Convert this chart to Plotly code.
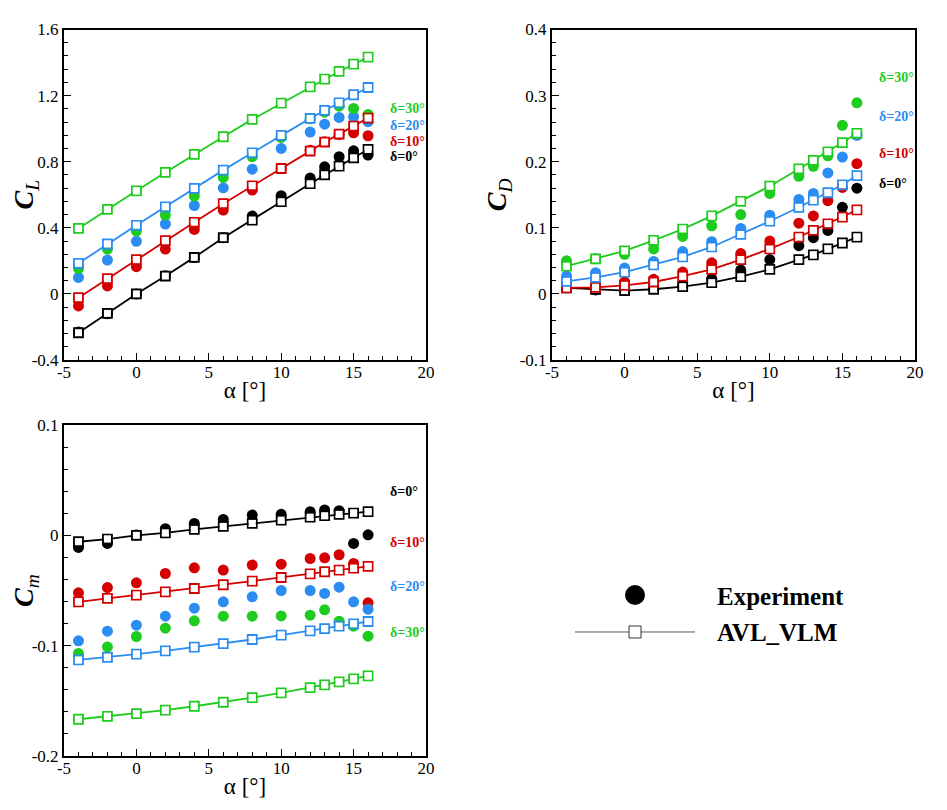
import plotly.graph_objects as go

# ---------------- data ----------------
alpha = [-4, -2, 0, 2, 4, 6, 8, 10, 12, 13, 14, 15, 16]
delta_labels = ["δ=0°", "δ=10°", "δ=20°", "δ=30°"]
colors = ["#000000", "#d40000", "#2b8cf2", "#1ecc1e"]

# Lift coefficient
cl_avl_d0 = [-0.235, -0.118, 0.000, 0.108, 0.221, 0.340, 0.447, 0.558, 0.667, 0.721, 0.773, 0.824, 0.874]
cl_avl_d10 = [-0.023, 0.092, 0.207, 0.322, 0.433, 0.546, 0.654, 0.759, 0.864, 0.919, 0.967, 1.015, 1.064]
cl_avl_d20 = [0.185, 0.302, 0.415, 0.527, 0.638, 0.749, 0.854, 0.959, 1.062, 1.110, 1.156, 1.205, 1.249]
cl_avl_d30 = [0.396, 0.511, 0.624, 0.735, 0.844, 0.951, 1.056, 1.154, 1.253, 1.300, 1.346, 1.390, 1.433]
cl_exp_d0 = [-0.230, -0.120, 0.000, 0.110, 0.220, 0.340, 0.471, 0.594, 0.701, 0.769, 0.830, 0.866, 0.840]
cl_exp_d10 = [-0.073, 0.048, 0.165, 0.271, 0.390, 0.507, 0.628, 0.760, 0.870, 0.920, 0.965, 0.975, 0.957]
cl_exp_d20 = [0.100, 0.205, 0.318, 0.423, 0.535, 0.642, 0.755, 0.880, 0.979, 1.027, 1.068, 1.072, 1.042]
cl_exp_d30 = [0.154, 0.271, 0.380, 0.477, 0.592, 0.705, 0.830, 0.947, 1.060, 1.100, 1.136, 1.122, 1.086]

# Drag coefficient
cd_avl_d0 = [0.009, 0.007, 0.005, 0.007, 0.011, 0.017, 0.026, 0.037, 0.052, 0.059, 0.068, 0.077, 0.086]
cd_avl_d10 = [0.009, 0.010, 0.013, 0.018, 0.027, 0.037, 0.052, 0.068, 0.086, 0.096, 0.106, 0.116, 0.127]
cd_avl_d20 = [0.019, 0.025, 0.033, 0.044, 0.056, 0.071, 0.090, 0.110, 0.131, 0.142, 0.153, 0.165, 0.179]
cd_avl_d30 = [0.042, 0.053, 0.065, 0.081, 0.098, 0.118, 0.140, 0.163, 0.189, 0.202, 0.215, 0.229, 0.243]
cd_exp_d0 = [0.010, 0.006, 0.006, 0.009, 0.013, 0.023, 0.036, 0.052, 0.073, 0.085, 0.096, 0.131, 0.160]
cd_exp_d10 = [0.010, 0.010, 0.018, 0.022, 0.033, 0.047, 0.061, 0.080, 0.107, 0.118, 0.141, 0.161, 0.197]
cd_exp_d20 = [0.027, 0.032, 0.039, 0.049, 0.064, 0.079, 0.099, 0.119, 0.143, 0.152, 0.183, 0.207, 0.240]
cd_exp_d30 = [0.050, 0.053, 0.060, 0.068, 0.087, 0.103, 0.120, 0.152, 0.178, 0.193, 0.209, 0.255, 0.289]

# Pitching moment coefficient
cm_avl_d0 = [-0.0058, -0.0034, 0.0000, 0.0023, 0.0054, 0.0081, 0.0108, 0.0138, 0.0165, 0.0178, 0.0190, 0.0202, 0.0214]
cm_avl_d10 = [-0.0603, -0.0572, -0.0542, -0.0512, -0.0482, -0.0448, -0.0415, -0.0382, -0.0349, -0.0330, -0.0315, -0.0297, -0.0282]
cm_avl_d20 = [-0.1129, -0.1105, -0.1077, -0.1047, -0.1014, -0.0981, -0.0944, -0.0905, -0.0866, -0.0845, -0.0823, -0.0802, -0.0781]
cm_avl_d30 = [-0.1667, -0.1640, -0.1616, -0.1585, -0.1549, -0.1513, -0.1471, -0.1428, -0.1380, -0.1356, -0.1328, -0.1301, -0.1274]
cm_exp_d0 = [-0.0110, -0.0073, 0.0003, 0.0060, 0.0108, 0.0144, 0.0184, 0.0190, 0.0214, 0.0230, 0.0223, -0.0073, 0.0005]
cm_exp_d10 = [-0.0521, -0.0473, -0.0430, -0.0346, -0.0294, -0.0315, -0.0270, -0.0261, -0.0210, -0.0204, -0.0176, -0.0255, -0.0612]
cm_exp_d20 = [-0.0956, -0.0869, -0.0814, -0.0733, -0.0660, -0.0603, -0.0557, -0.0500, -0.0500, -0.0527, -0.0470, -0.0603, -0.0669]
cm_exp_d30 = [-0.1071, -0.1011, -0.0917, -0.0842, -0.0775, -0.0733, -0.0733, -0.0730, -0.0724, -0.0675, -0.0778, -0.0823, -0.0914]

# Ticks
x_tickvals = [-5, 0, 5, 10, 15, 20]
x_ticktext = ["-5", "0", "5", "10", "15", "20"]
cl_tickvals = [-0.4, 0, 0.4, 0.8, 1.2, 1.6]
cl_ticktext = ["-0.4", "0", "0.4", "0.8", "1.2", "1.6"]
cd_tickvals = [-0.1, 0, 0.1, 0.2, 0.3, 0.4]
cd_ticktext = ["-0.1", "0", "0.1", "0.2", "0.3", "0.4"]
cm_tickvals = [-0.2, -0.1, 0, 0.1]
cm_ticktext = ["-0.2", "-0.1", "0", "0.1"]

# Label positions for delta annotations (data coordinates)
label_x = 17.35
cl_label_y = [0.830, 0.921, 1.021, 1.122]
cd_label_y = [0.167, 0.212, 0.269, 0.327]
cm_label_y = [0.040, -0.0067, -0.0467, -0.0884]

legend_names = ["Experiment", "AVL_VLM"]

# ---------------- figure ----------------
FONT = "Liberation Serif"
PAGE_W, PAGE_H = 947, 810
OFF = 8  # default body margin of the html page
W, H = PAGE_W - 2 * OFF, PAGE_H - 2 * OFF

def px_x(a, b):
    return [(a - OFF) / W, (b - OFF) / W]

def px_y(top, bottom):
    return [(H - (bottom - OFF)) / H, (H - (top - OFF)) / H]

def pxx(a):
    return (a - OFF) / W

def pxy(t):
    return (H - (t - OFF)) / H

panels = [
    dict(ax="", exp=[cl_exp_d0, cl_exp_d10, cl_exp_d20, cl_exp_d30],
         avl=[cl_avl_d0, cl_avl_d10, cl_avl_d20, cl_avl_d30], ly=cl_label_y),
    dict(ax="2", exp=[cd_exp_d0, cd_exp_d10, cd_exp_d20, cd_exp_d30],
         avl=[cd_avl_d0, cd_avl_d10, cd_avl_d20, cd_avl_d30], ly=cd_label_y),
    dict(ax="3", exp=[cm_exp_d0, cm_exp_d10, cm_exp_d20, cm_exp_d30],
         avl=[cm_avl_d0, cm_avl_d10, cm_avl_d20, cm_avl_d30], ly=cm_label_y),
]

fig = go.Figure()
annotations = []
for p in panels:
    xa, ya = "x" + p["ax"], "y" + p["ax"]
    for ys, c in zip(p["exp"], colors):
        fig.add_trace(go.Scatter(x=alpha, y=ys, mode="markers", xaxis=xa, yaxis=ya,
                                 marker=dict(symbol="circle", size=11, color=c, line=dict(width=0)),
                                 showlegend=False))
    for ys, c in zip(p["avl"], colors):
        fig.add_trace(go.Scatter(x=alpha, y=ys, mode="lines+markers", xaxis=xa, yaxis=ya,
                                 line=dict(color=c, width=1.8),
                                 marker=dict(symbol="square-open", size=9, color=c, line=dict(width=1.8, color=c)),
                                 showlegend=False))
        fig.add_trace(go.Scatter(x=alpha, y=ys, mode="markers", xaxis=xa, yaxis=ya,
                                 marker=dict(symbol="square", size=7, color="white", line=dict(width=0)),
                                 showlegend=False, hoverinfo="skip"))
    for lab, yv, c in zip(delta_labels, p["ly"], colors):
        annotations.append(dict(x=label_x, y=yv, xref=xa, yref=ya, text="<b>" + lab + "</b>",
                                showarrow=False, xanchor="left", yanchor="middle",
                                font=dict(family=FONT, size=14, color=c)))

# legend (drawn on a hidden helper axis)
leg_row = [1, 0]  # Experiment on top, AVL_VLM below
fig.add_trace(go.Scatter(x=[0, 1], y=[leg_row[1], leg_row[1]], mode="lines", xaxis="x4", yaxis="y4",
                         line=dict(color="#555555", width=1), showlegend=False, hoverinfo="skip"))
fig.add_trace(go.Scatter(x=[0.5], y=[leg_row[1]], mode="markers", xaxis="x4", yaxis="y4",
                         marker=dict(symbol="square", size=12, color="white", line=dict(color="#333333", width=1)),
                         showlegend=False, hoverinfo="skip"))
fig.add_trace(go.Scatter(x=[0.5], y=[leg_row[0]], mode="markers", xaxis="x4", yaxis="y4",
                         marker=dict(symbol="circle", size=20, color="black"),
                         showlegend=False, hoverinfo="skip"))
legend_text_y = [596, 632]
for name, ty in zip(legend_names, legend_text_y):
    annotations.append(dict(x=pxx(715), y=pxy(ty), xref="paper", yref="paper", text="<b>" + name + "</b>",
                            showarrow=False, xanchor="left", yanchor="middle",
                            font=dict(family=FONT, size=25, color="black")))

tickfont = dict(family=FONT, size=17, color="black")
titlefont = dict(family=FONT, size=23, color="black")

def xaxis_cfg(dom, anchor):
    return dict(domain=dom, anchor=anchor, range=[-5, 20], tickvals=x_tickvals, ticktext=x_ticktext,
                ticks="inside", ticklen=7, tickwidth=1.2, tickcolor="black", ticklabelstandoff=-4,
                minor=dict(ticks="inside", ticklen=4, dtick=1, tick0=0, tickcolor="black", tickwidth=1),
                showline=True, linecolor="black", linewidth=2, mirror=True, automargin=False,
                showgrid=False, zeroline=False, tickfont=tickfont,
                title=dict(text="α [°]", font=titlefont, standoff=0))

def yaxis_cfg(dom, anchor, rng, tv, tt, mdt, title):
    return dict(domain=dom, anchor=anchor, range=rng, tickvals=tv, ticktext=tt,
                ticks="inside", ticklen=7, tickwidth=1.2, tickcolor="black",
                minor=dict(ticks="inside", ticklen=4, dtick=mdt, tick0=0, tickcolor="black", tickwidth=1),
                showline=True, linecolor="black", linewidth=2, mirror=True, automargin=False,
                showgrid=False, zeroline=False, tickfont=tickfont,
                title=dict(text=title, font=dict(family=FONT, size=28, color="black"), standoff=5))

dx1 = px_x(64, 426)
dx2 = px_x(552, 915)
dy_top = px_y(29.5, 360)
dy_bot = px_y(425, 756)

fig.update_layout(
    width=W, height=H, margin=dict(l=0, r=0, t=0, b=0, autoexpand=False),
    paper_bgcolor="white", plot_bgcolor="white",
    showlegend=False,
    font=dict(family=FONT, color="black"),
    xaxis=xaxis_cfg(dx1, "y"),
    yaxis=yaxis_cfg(dy_top, "x", [-0.4, 1.6], cl_tickvals, cl_ticktext, 0.08, "<b><i>C</i></b><sub><i>L</i></sub>"),
    xaxis2=xaxis_cfg(dx2, "y2"),
    yaxis2=yaxis_cfg(dy_top, "x2", [-0.1, 0.4], cd_tickvals, cd_ticktext, 0.02, "<b><i>C</i></b><sub><i>D</i></sub>"),
    xaxis3=xaxis_cfg(dx1, "y3"),
    yaxis3=yaxis_cfg(dy_bot, "x3", [-0.2, 0.1], cm_tickvals, cm_ticktext, 0.02, "<b><i>C</i></b><sub><i>m</i></sub>"),
    xaxis4=dict(domain=px_x(575, 695), anchor="y4", range=[0, 1], visible=False, fixedrange=True, automargin=False),
    yaxis4=dict(domain=px_y(575, 650), anchor="x4", range=[-0.487, 1.54], visible=False, fixedrange=True, automargin=False),
    annotations=annotations,
)

fig.write_html("out.html")
